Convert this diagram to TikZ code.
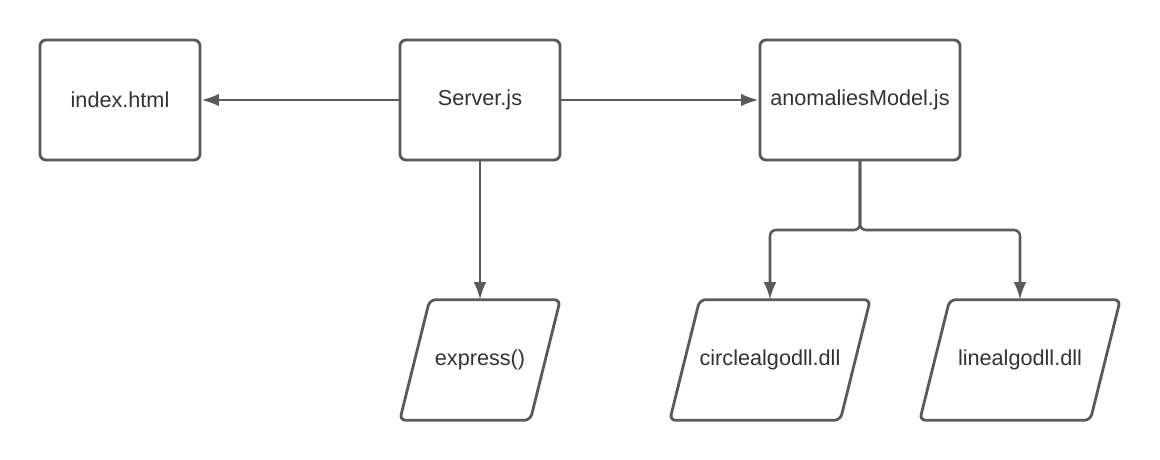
\documentclass[tikz,border=0pt]{standalone}
\usepackage{fontspec}
\setmainfont{Liberation Sans}
\usetikzlibrary{arrows.meta}
\usetikzlibrary{positioning}
\definecolor{lineGray}{HTML}{5A5A5A}
\definecolor{textGray}{HTML}{333333}

\tikzset{
	filebox/.style={draw=lineGray, line width=2pt, rounded corners=0.15cm, minimum height=3cm, text=textGray, font=\fontsize{15.4}{18}\selectfont},
	iobox/.style={minimum height=3cm, inner sep=0pt, text=textGray, font=\fontsize{15.4}{18}\selectfont},
	ioedge/.style={draw=lineGray, line width=2pt, rounded corners=0.15cm, line join=round},
	flow/.style={-{Latex[length=12.5pt, width=9pt]}, draw=lineGray, line width=1.8pt}
}

\begin{document}
\begin{tikzpicture}[line cap=round, line join=round, x=1cm, y=1cm]
	\useasboundingbox (0,0) rectangle (29,-11.5);
	% top row
	\node[filebox, minimum width=4cm] (server) at (12,-2.5) {Server.js};
	\node[filebox, minimum width=4cm] (index) at (3,-2.5) {index.html};
	\node[filebox, minimum width=5cm] (model) at (21.5,-2.5) {anomaliesModel.js};
	% bottom row (parallelograms)
	\node[iobox, minimum width=4cm] (express) at (12,-9) {express()};
	\node[iobox, minimum width=5cm] (circle) at (19.25,-9) {circlealgodll.dll};
	\node[iobox, minimum width=5cm] (linea) at (25.5,-9) {linealgodll.dll};
	\foreach \n in {express,circle,linea}
		\draw[ioedge] ([xshift=0.75cm]\n.north west) -- (\n.north east) -- ([xshift=-0.75cm]\n.south east) -- (\n.south west) -- cycle;
	% connectors
	\coordinate (split) at (21.5,-5.75);
	\draw[flow] (server.west) -- (index.east);
	\draw[flow] (server.east) -- (model.west);
	\draw[flow] (server.south) -- (express.north);
	\draw[flow, rounded corners=0.15cm] (model.south) -- (split) -| (circle.north);
	\draw[flow, rounded corners=0.15cm] (model.south) -- (split) -| (linea.north);
\end{tikzpicture}
\end{document}
